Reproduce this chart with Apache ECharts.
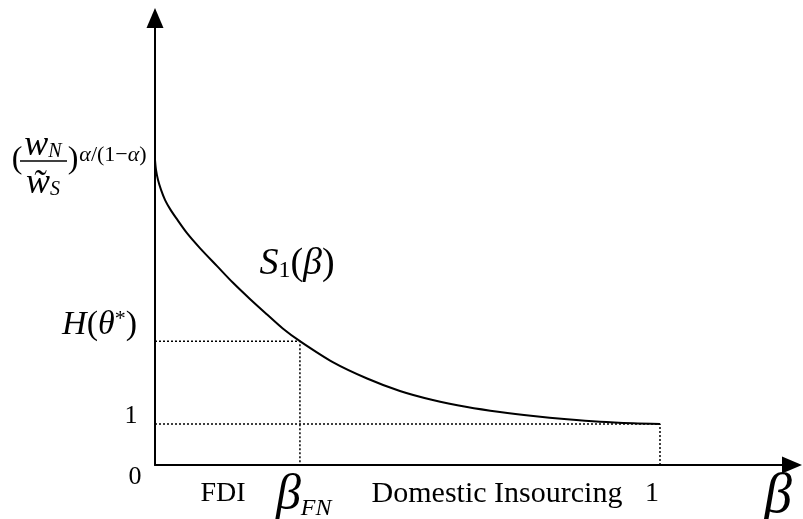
<!DOCTYPE html>
<html>
<head>
<meta charset="utf-8">
<script src="https://cdn.jsdelivr.net/npm/echarts@6/dist/echarts.min.js"></script>
<style>
  html, body { margin: 0; padding: 0; background: #fff; }
  #main { width: 803px; height: 519px; }
</style>
</head>
<body>
<div id="main"></div>
<script>
// curve S1(beta) (y in units where the "1" line = 1)
const betaVals = [0, 0.002, 0.006, 0.012, 0.02, 0.03, 0.042, 0.063, 0.089, 0.123, 0.154, 0.188,
  0.222, 0.253, 0.287, 0.352, 0.42, 0.485, 0.55, 0.618, 0.683, 0.749, 0.816, 0.881, 0.947, 1.0];
const s1Vals = [7.44, 7.195, 6.95, 6.71, 6.46, 6.24, 6.02, 5.66, 5.29, 4.85, 4.45, 4.05,
  3.67, 3.33, 3.02, 2.51, 2.11, 1.805, 1.585, 1.415, 1.293, 1.195, 1.115, 1.054, 1.017, 1.0];
const betaFN = 0.287;
const hTheta = 3.02;
const betaOne = 1;
const yOne = 1;
const xMax = 1.2614;
const yMax = 10.9;

const serif = "'Liberation Serif', 'DejaVu Serif', serif";

const chart = echarts.init(document.getElementById('main'));

const axisCommon = {
  type: 'value',
  min: 0,
  splitLine: { show: false },
  axisTick: { show: false },
  axisLabel: { show: false },
  axisLine: {
    show: true,
    symbol: ['none', 'triangle'],
    symbolSize: [17, 20],
    lineStyle: { color: '#000', width: 2 }
  }
};

const dotted = { color: '#000', width: 1.5, type: [2, 2] };

chart.setOption({
  animation: false,
  grid: { left: 155, right: 11, top: 18, bottom: 54 },
  xAxis: Object.assign({}, axisCommon, { max: xMax }),
  yAxis: Object.assign({}, axisCommon, { max: yMax }),
  series: [
    {
      type: 'line',
      data: betaVals.map((b, i) => [b, s1Vals[i]]),
      smooth: 0.3,
      showSymbol: false,
      lineStyle: { color: '#000', width: 2 }
    },
    {
      type: 'line',
      data: [[0, hTheta], [betaFN, hTheta], [betaFN, 0]],
      showSymbol: false,
      lineStyle: dotted
    },
    {
      type: 'line',
      data: [[0, yOne], [betaOne, yOne], [betaOne, 0]],
      showSymbol: false,
      lineStyle: dotted
    }
  ]
});

// text labels, placed from the axis positions
const px = (x, y) => chart.convertToPixel({ gridIndex: 0 }, [x, y]);
const o = px(0, 0);
const pTop = px(0, s1Vals[0]);
const pOne = px(0, yOne);
const pH = px(0, hTheta);
const pFN = px(betaFN, 0);
const pB1 = px(betaOne, 0);

function txt(x, y, text, size, italic) {
  return {
    type: 'text',
    x: x, y: y,
    style: {
      text: text,
      font: (italic ? 'italic ' : '') + size + 'px ' + serif,
      fill: '#000',
      align: 'center',
      verticalAlign: 'middle'
    }
  };
}

const labelY = o[1] + 29;

chart.setOption({
  graphic: [
    // y side
    txt(o[0] - 20, o[1] + 12, '0', 26),
    txt(pOne[0] - 24, pOne[1] - 8, '1', 26),
    {
      type: 'text', x: pH[0] - 18, y: pH[1] - 16,
      style: {
        text: '{i|H}{n|(}{i|θ}{s|*}{n|)}',
        align: 'right', verticalAlign: 'middle',
        rich: {
          i: { font: 'italic 34px ' + serif },
          n: { font: '34px ' + serif },
          s: { font: '22px ' + serif, verticalAlign: 'top', padding: [0, 0, 10, 0] }
        }
      }
    },
    // S1(beta)
    {
      type: 'text', x: 297, y: 264,
      style: {
        text: '{i|S}{sub|1}{n|(}{i|β}{n|)}',
        align: 'center', verticalAlign: 'middle',
        rich: {
          i: { font: 'italic 38px ' + serif },
          n: { font: '38px ' + serif },
          sub: { font: '24px ' + serif, padding: [14, 0, 0, 0] }
        }
      }
    },
    // top label (w_N / w~_S)^{alpha/(1-alpha)}
    txt(pTop[0] - 138, pTop[1], '(', 32),
    {
      type: 'text', x: pTop[0] - 112, y: pTop[1] - 14,
      style: {
        text: '{i|w}{sub|N}',
        align: 'center', verticalAlign: 'middle',
        rich: {
          i: { font: 'italic 36px ' + serif },
          sub: { font: 'italic 20px ' + serif, padding: [12, 0, 0, 0] }
        }
      }
    },
    {
      type: 'line',
      shape: { x1: pTop[0] - 135, y1: pTop[1] + 1, x2: pTop[0] - 88, y2: pTop[1] + 1 },
      style: { stroke: '#000', lineWidth: 1.5 }
    },
    {
      type: 'text', x: pTop[0] - 112, y: pTop[1] + 24,
      style: {
        text: '{i|w\u0303}{sub|S}',
        align: 'center', verticalAlign: 'middle',
        rich: {
          i: { font: 'italic 36px ' + serif },
          sub: { font: 'italic 20px ' + serif, padding: [12, 0, 0, 0] }
        }
      }
    },
    txt(pTop[0] - 82, pTop[1], ')', 32),
    {
      type: 'text', x: pTop[0] - 42, y: pTop[1] - 5,
      style: {
        text: '{i|α}{n|/(1−}{i|α}{n|)}',
        align: 'center', verticalAlign: 'middle',
        rich: {
          i: { font: 'italic 22px ' + serif },
          n: { font: '22px ' + serif }
        }
      }
    },
    // x side
    txt(223, labelY, 'FDI', 28),
    {
      type: 'text', x: pFN[0] - 24, y: labelY + 2,
      style: {
        text: '{b|β}{sub|FN}',
        align: 'left', verticalAlign: 'middle',
        rich: {
          b: { font: 'italic 50px ' + serif },
          sub: { font: 'italic 24px ' + serif, padding: [26, 0, 0, 0] }
        }
      }
    },
    txt(497, labelY, 'Domestic Insourcing', 30),
    txt(pB1[0] - 8, labelY, '1', 28),
    txt(778, o[1] + 32, 'β', 56, true)
  ]
});
</script>
</body>
</html>
